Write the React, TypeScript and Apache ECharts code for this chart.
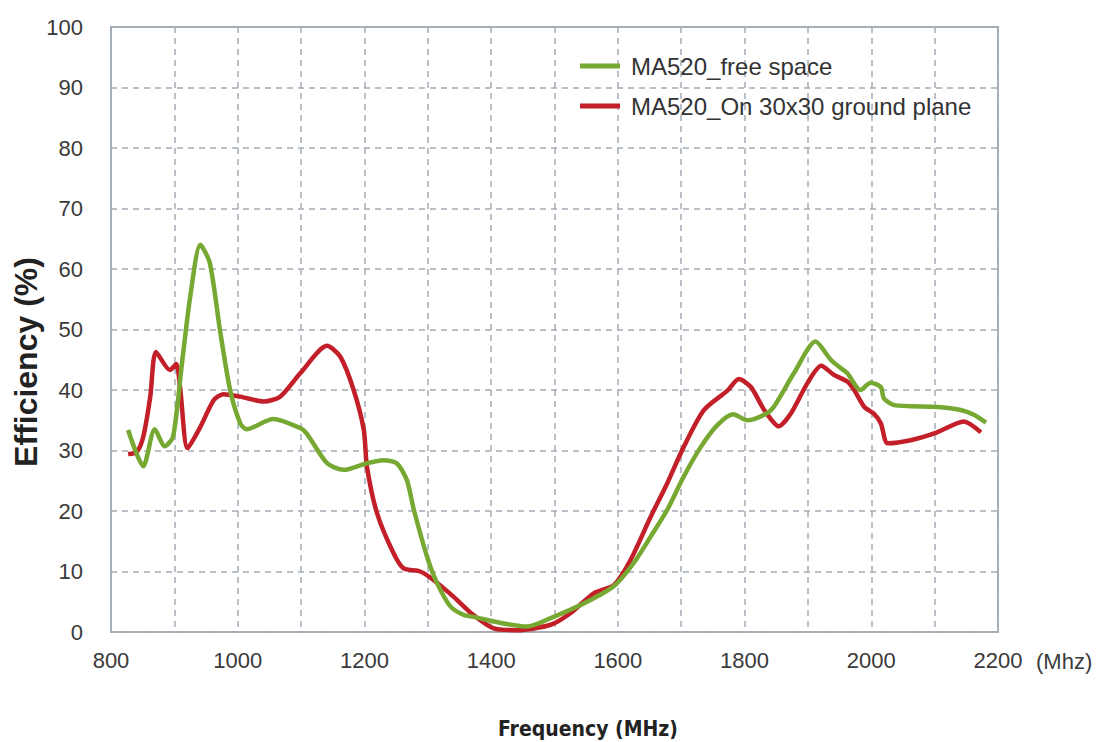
import React, { useEffect, useRef } from "react";
import * as echarts from "echarts";

const freeFreq = [827, 851, 869, 885, 898, 912, 925, 941, 956, 972, 988, 1004, 1014, 1056, 1099, 1109, 1141, 1167, 1204, 1230, 1251, 1267, 1278, 1299, 1315, 1336, 1357, 1372, 1415, 1457, 1494, 1546, 1594, 1625, 1652, 1678, 1704, 1731, 1757, 1782, 1804, 1831, 1846, 1878, 1912, 1936, 1952, 1962, 1983, 1999, 2015, 2020, 2036, 2104, 2141, 2162, 2181];
const freeVals = [33.4, 27.4, 33.5, 30.7, 32.3, 44.4, 55.4, 64.0, 61.0, 49.9, 40.0, 34.5, 33.5, 35.2, 33.7, 32.8, 27.9, 26.8, 27.9, 28.4, 27.9, 25.1, 20.2, 12.4, 8.0, 4.2, 2.8, 2.5, 1.5, 0.9, 2.3, 4.7, 7.6, 11.4, 15.8, 20.2, 25.7, 30.6, 34.2, 36.0, 35.0, 35.9, 37.2, 42.8, 48.0, 45.0, 43.6, 42.8, 40.0, 41.2, 40.5, 38.6, 37.5, 37.2, 36.7, 35.9, 34.6];

const groundFreq = [827, 841, 851, 862, 871, 893, 903, 909, 921, 941, 962, 977, 1004, 1041, 1067, 1099, 1141, 1162, 1183, 1199, 1204, 1220, 1246, 1262, 1288, 1309, 1341, 1372, 1404, 1441, 1494, 1525, 1562, 1594, 1620, 1652, 1678, 1704, 1736, 1773, 1791, 1810, 1831, 1854, 1873, 1899, 1921, 1941, 1962, 1973, 1989, 2004, 2015, 2026, 2062, 2104, 2146, 2173];
const groundVals = [29.4, 29.8, 32.3, 38.9, 46.3, 43.3, 44.3, 40.5, 30.4, 33.9, 38.3, 39.3, 38.9, 38.1, 38.9, 42.8, 47.3, 45.5, 40.0, 33.4, 27.3, 19.6, 13.0, 10.5, 10.0, 8.6, 5.8, 2.8, 0.6, 0.3, 1.2, 3.1, 6.4, 7.8, 11.9, 19.1, 24.6, 30.6, 36.7, 39.9, 41.8, 40.5, 36.7, 34.0, 36.1, 41.1, 44.0, 42.5, 41.4, 40.0, 37.2, 36.1, 34.5, 31.2, 31.7, 33.0, 34.8, 33.0];

const seriesNames = ["MA520_free space", "MA520_On 30x30 ground plane"];
const xTickLabels = ["800", "1000", "1200", "1400", "1600", "1800", "2000", "2200"];

const pair = (xs: number[], ys: number[]) => xs.map((x, i) => [x, ys[i]]);

export default function App() {
  const ref = useRef<HTMLDivElement>(null);
  useEffect(() => {
    const chart = echarts.init(ref.current!, null, { renderer: "svg" });
    const gridColor = "#a3acb5";
    const font = "'Liberation Sans', Arial, sans-serif";
    chart.setOption({
      animation: false,
      backgroundColor: "#ffffff",
      grid: {
        left: 111,
        right: 100,
        top: 27,
        bottom: 110,
        show: true,
        borderColor: "#a9b2ba",
        borderWidth: 2,
        containLabel: false,
      },
      legend: {
        orient: "vertical",
        left: 580,
        top: 54,
        padding: 0,
        itemWidth: 40,
        itemHeight: 5,
        itemGap: 16,
        icon: "rect",
        textStyle: { fontFamily: font, fontSize: 24, color: "#333", padding: [0, 0, 0, 6] },
        data: seriesNames,
      },
      xAxis: {
        type: "value",
        min: 800,
        max: 2200,
        interval: 100,
        axisLine: { show: false },
        axisTick: { show: false },
        axisLabel: {
          margin: 17,
          fontFamily: font,
          fontSize: 22,
          color: "#3a3a3a",
          formatter: (v: number) => {
            const s = String(v);
            return xTickLabels.includes(s) ? s : "";
          },
        },
        splitLine: { show: true, lineStyle: { color: gridColor, width: 1.5, type: [6, 5] } },
      },
      yAxis: {
        type: "value",
        min: 0,
        max: 100,
        interval: 10,
        axisLine: { show: false },
        axisTick: { show: false },
        axisLabel: { margin: 28, fontFamily: font, fontSize: 22, color: "#3a3a3a" },
        splitLine: { show: true, lineStyle: { color: gridColor, width: 1.5, type: [6, 5] } },
      },
      graphic: [
        {
          type: "text",
          x: 1036,
          y: 661,
          style: { text: "(Mhz)", fontFamily: font, fontSize: 22, fill: "#3a3a3a", verticalAlign: "middle" },
        },
        {
          type: "text",
          x: 588,
          y: 729,
          style: {
            text: "Frequency (MHz)",
            fontFamily: "'Liberation Sans Narrow', 'DejaVu Sans Condensed', Roboto, sans-serif",
            fontWeight: "bold",
            fontSize: 21,
            fill: "#222",
            align: "center",
            verticalAlign: "middle",
          },
        },
        {
          type: "text",
          x: 26,
          y: 362,
          rotation: Math.PI / 2,
          style: {
            text: "Efficiency (%)",
            fontFamily: font,
            fontWeight: "bold",
            fontSize: 32,
            fill: "#222",
            align: "center",
            verticalAlign: "middle",
          },
        },
      ],
      series: [
        {
          name: seriesNames[0],
          type: "line",
          data: pair(freeFreq, freeVals),
          smooth: 0.25,
          showSymbol: false,
          symbol: "none",
          lineStyle: { color: "#76a832", width: 4.5 },
          itemStyle: { color: "#76a832" },
          z: 3,
        },
        {
          name: seriesNames[1],
          type: "line",
          data: pair(groundFreq, groundVals),
          smooth: 0.25,
          showSymbol: false,
          symbol: "none",
          lineStyle: { color: "#c31f28", width: 4.5 },
          itemStyle: { color: "#c31f28" },
          z: 2,
        },
      ],
    });
    return () => chart.dispose();
  }, []);
  return (
    <div
      ref={ref}
      style={{ position: "fixed", left: 0, top: 0, width: 1098, height: 742 }}
    />
  );
}
